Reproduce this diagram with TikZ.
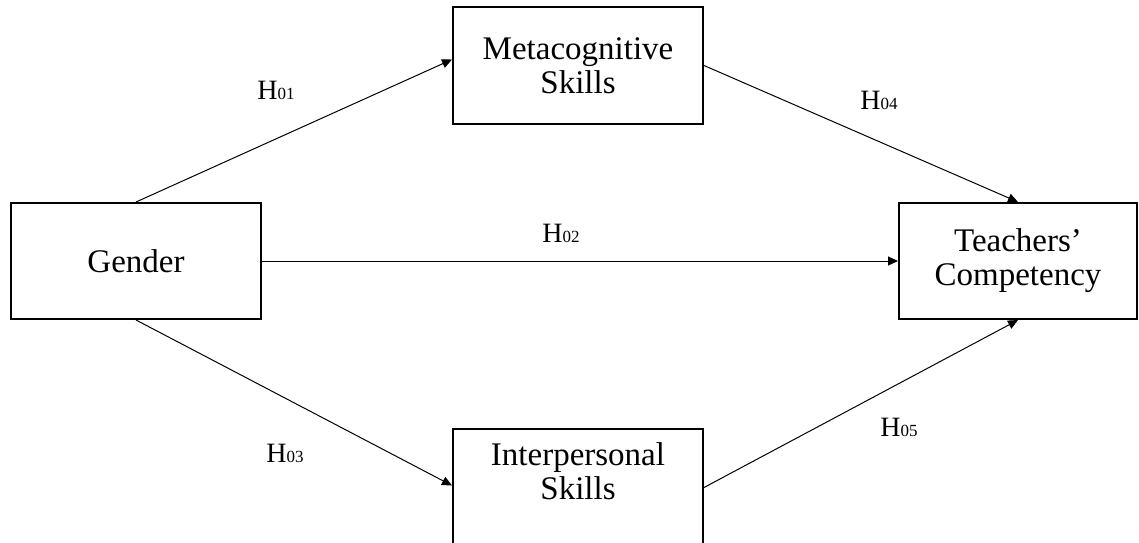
\documentclass[tikz,border=0pt]{standalone}
\usepackage{fontspec}
\setmainfont{Liberation Serif}
\usetikzlibrary{arrows.meta}

\newcommand{\hyp}[1]{{\fontsize{14}{14}\selectfont H}{\fontsize{8.5}{8.5}\selectfont #1}}

\begin{document}
\begin{tikzpicture}[x=0.5pt,y=-0.5pt,
  box/.style={rectangle,draw,line width=1pt,minimum width=125pt,minimum height=58.5pt,
    inner sep=0pt,align=center,font=\fontsize{16.5}{17}\selectfont},
  arr/.style={-{Triangle[length=5pt,width=4.5pt]},line width=0.5pt},
  hlab/.style={inner sep=0pt}]
  \useasboundingbox (0,0) rectangle (1139,542);
  \node[box,minimum height=58pt] (gender) at (136,261) {Gender};
  \node[box] (meta) at (578,65.5) {Metacognitive\\Skills};
  \node[box] (inter) at (578,487.5) {};
  \node[inner sep=0pt,anchor=north,align=center,font=\fontsize{16.5}{17}\selectfont]
    (intertxt) at ([yshift=-7pt]inter.north) {Interpersonal\\Skills};
  \node[box,minimum width=119pt,minimum height=58pt] (teach) at (1018,261) {Teachers'\\Competency};
  \draw[arr] (gender.north) -- ([yshift=3pt]meta.west);
  \draw[arr] (gender.east) -- (teach.west);
  \draw[arr] (gender.south) -- ([yshift=1pt]inter.west);
  \draw[arr] (meta.east) -- (teach.north);
  \draw[arr] (inter.east) -- (teach.south);
  \node[hlab] (h01) at (276,90) {\hyp{01}};
  \node[hlab] (h02) at (561,233) {\hyp{02}};
  \node[hlab] (h03) at (285,453) {\hyp{03}};
  \node[hlab] (h04) at (879,100) {\hyp{04}};
  \node[hlab] (h05) at (899,427) {\hyp{05}};
\end{tikzpicture}
\end{document}
